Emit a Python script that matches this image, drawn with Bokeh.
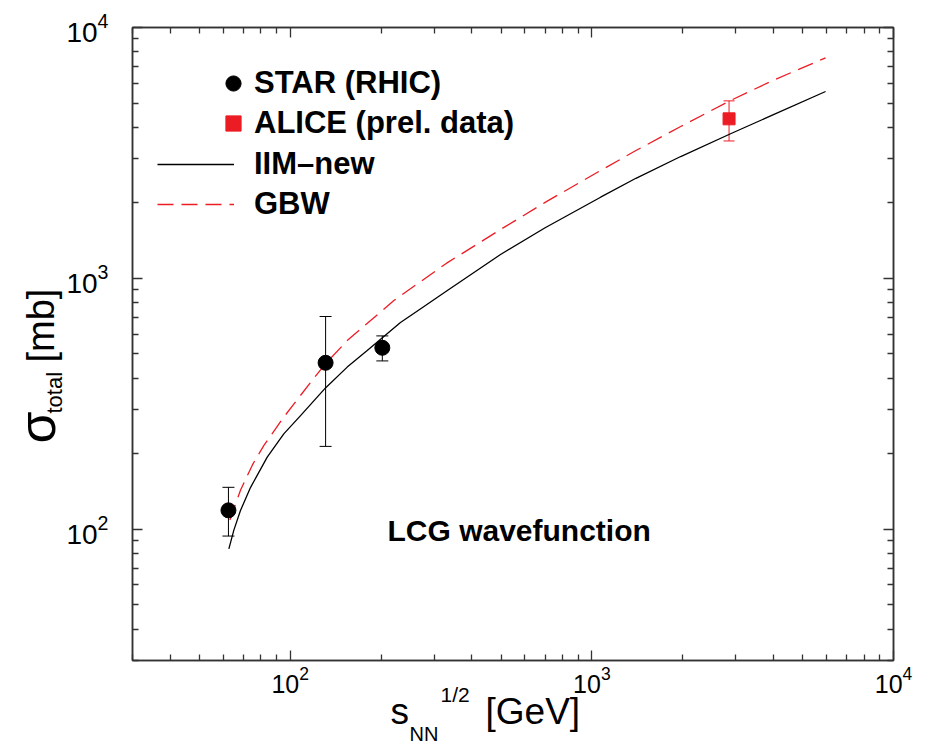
import numpy as np
from bokeh.plotting import figure
from bokeh.models import (ColumnDataSource, Whisker, TeeHead, Legend, LegendItem,
                          Label, LogAxis, FixedTicker, LogTickFormatter, Range1d)
from bokeh.embed import file_html
from bokeh.resources import INLINE

# ---- data ----
star_x = [62.4, 131, 202]
star_y = [119, 461, 529]
star_lo = [94, 214, 469]
star_hi = [147, 705, 590]

alice_x = [2850]
alice_y = [4325]
alice_lo = [3530]
alice_hi = [5100]

iim_x = [62.6, 65.0, 68.4, 73.9, 83.9, 95.2, 108.2, 130.9, 154.5, 180, 232, 270,
         330, 498, 700, 1069, 1400, 1970, 2883, 4000, 5954]
iim_y = [83.6, 99, 118.8, 147, 194, 240, 284, 366, 443, 516, 667, 755,
         891, 1245, 1591, 2107, 2506, 3060, 3771, 4495, 5559]

gbw_x = [63.1, 68.4, 75.0, 81.8, 95.2, 119.7, 130.9, 154.5, 220.6, 330, 498, 700,
         1069, 1400, 1970, 2883, 4000, 5954]
gbw_y = [109, 143, 181, 216, 280, 400, 457, 565, 816, 1150, 1566, 2010,
         2692, 3233, 4031, 5118, 6166, 7570]

major_ticks = [1e2, 1e3, 1e4]
minor_ticks = [m * 10.0 ** e for e in (1, 2, 3) for m in range(2, 10)]

RED = "#ec1c24"
AX = "#333333"
FONT = "Liberation Sans"

p = figure(x_axis_type="log", y_axis_type="log",
           x_range=Range1d(30, 1e4), y_range=Range1d(30, 1e4),
           frame_width=761, frame_height=633,
           min_border_left=132, min_border_right=25,
           min_border_top=27, min_border_bottom=80,
           output_backend="svg", toolbar_location=None)
p.background_fill_color = "white"
p.border_fill_color = "white"
p.outline_line_color = AX
p.outline_line_width = 1.5
p.xgrid.visible = False
p.ygrid.visible = False

bottom = p.below[0]
left = p.left[0]
top = LogAxis()
right = LogAxis()
p.add_layout(top, "above")
p.add_layout(right, "right")

for ax in [bottom, top, left, right]:
    ax.ticker = FixedTicker(ticks=major_ticks, minor_ticks=minor_ticks)
    ax.formatter = LogTickFormatter()
    ax.axis_line_color = AX
    ax.axis_line_width = 1.5
    ax.major_tick_line_color = AX
    ax.minor_tick_line_color = AX
    ax.major_tick_line_width = 1.3
    ax.minor_tick_line_width = 1.3
    ax.major_tick_in = 10
    ax.major_tick_out = 0
    ax.minor_tick_in = 6
    ax.minor_tick_out = 0
    ax.major_label_text_font = FONT
    ax.major_label_text_color = "black"

bottom.major_label_text_font_size = "25px"
left.major_label_text_font_size = "28px"
bottom.major_label_standoff = 5
left.major_label_standoff = 24
for ax in [top, right]:
    ax.major_label_text_font_size = "1px"
    ax.major_label_text_color = None
    ax.major_label_standoff = 0

# ---- curves ----
iim_src = ColumnDataSource(dict(x=iim_x, y=iim_y))
gbw_src = ColumnDataSource(dict(x=gbw_x, y=gbw_y))
iim_r = p.line("x", "y", source=iim_src, line_color="black", line_width=1.3)
gbw_r = p.line("x", "y", source=gbw_src, line_color=RED, line_width=1.3,
               line_dash="16 8")

# ---- data points ----
star_src = ColumnDataSource(dict(x=star_x, y=star_y, lo=star_lo, hi=star_hi))
alice_src = ColumnDataSource(dict(x=alice_x, y=alice_y, lo=alice_lo, hi=alice_hi))

p.add_layout(Whisker(base="x", lower="lo", upper="hi", source=star_src,
                     line_color="black", line_width=1,
                     upper_head=TeeHead(size=12, line_color="black", line_width=1),
                     lower_head=TeeHead(size=12, line_color="black", line_width=1)))
p.add_layout(Whisker(base="x", lower="lo", upper="hi", source=alice_src,
                     line_color=RED, line_width=1,
                     upper_head=TeeHead(size=11, line_color=RED, line_width=1),
                     lower_head=TeeHead(size=11, line_color=RED, line_width=1)))

star_r = p.scatter("x", "y", source=star_src, marker="circle", size=15,
                   fill_color="black", line_color="black")
alice_r = p.scatter("x", "y", source=alice_src, marker="square", size=12,
                    fill_color=RED, line_color=RED)

# ---- legends ----
common = dict(label_text_font=FONT, label_text_font_style="bold",
              label_text_font_size="31px", label_text_color="black",
              border_line_color=None, background_fill_alpha=0,
              padding=0, margin=0, spacing=2,
              glyph_height=38, label_height=38)
leg1 = Legend(items=[LegendItem(label="STAR (RHIC)", renderers=[star_r]),
                     LegendItem(label="ALICE (prel. data)", renderers=[alice_r])],
              location=(82, 518), glyph_width=38, label_standoff=2, **common)
leg2 = Legend(items=[LegendItem(label="IIM\u2013new", renderers=[iim_r]),
                     LegendItem(label="GBW", renderers=[gbw_r])],
              location=(25, 437), glyph_width=77, label_standoff=20, **common)
p.add_layout(leg1)
p.add_layout(leg2)

# ---- text: annotation & axis titles (anchored at frame bottom-left) ----
def lab(text, dx, dy, size, style="normal", angle=0.0, side=None):
    l = Label(x=30, y=30, x_units="data", y_units="data",
              x_offset=dx, y_offset=dy, text=text,
              text_font=FONT, text_font_size=size,
              text_font_style=style, text_color="black",
              text_align="left", text_baseline="alphabetic",
              angle=angle)
    if side is None:
        p.add_layout(l)
    else:
        p.add_layout(l, side)

lab("LCG wavefunction", 255, 130, "30px", "bold")

# x title (kept in the lower side panel so that it is not clipped)
lab("s", 258, -51, "37px", side="below")
lab("NN", 277, -73, "20px", side="below")
lab("1/2", 308, -34, "21px", side="below")
lab("[GeV]", 353, -51, "37px", side="below")

# y title (rotated), also in the lower panel so the frame keeps its place
lab("\u03c3", -96, 217, "52px", angle=np.pi / 2, side="below")
lab("total", -78, 247, "22px", angle=np.pi / 2, side="below")
lab("[mb]", -92, 298, "38px", angle=np.pi / 2, side="below")

open("out.html", "w").write(file_html(p, INLINE))
